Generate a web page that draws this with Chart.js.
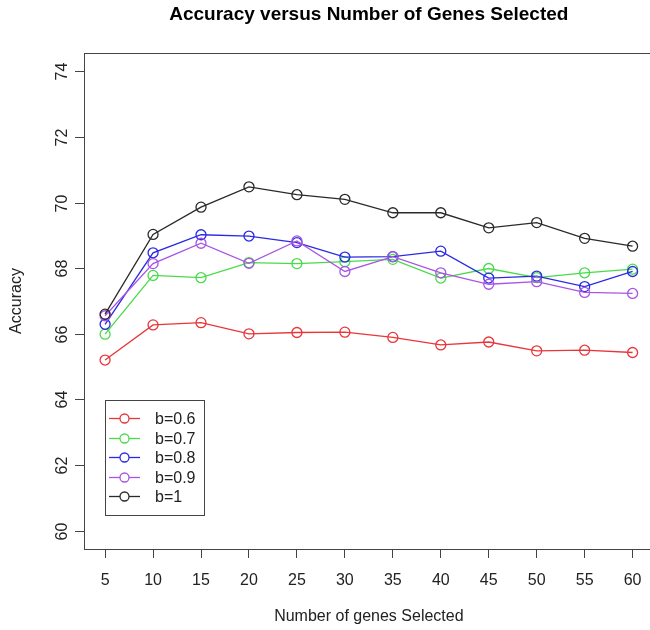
<!DOCTYPE html>
<html><head><meta charset="utf-8">
<script src="https://cdn.jsdelivr.net/npm/chart.js@4.4.0/dist/chart.umd.min.js"></script>
<style>
html,body{margin:0;padding:0;background:#fff;overflow:hidden;width:650px;height:630px}
#wrap{width:650px;height:630px;overflow:hidden;position:relative}
canvas{display:block}
</style></head>
<body><div id="wrap"><canvas id="c" width="660" height="630"></canvas></div>
<script>
// ---- data ----
const genes = [5, 10, 15, 20, 25, 30, 35, 40, 45, 50, 55, 60];
const xTicks = [5, 10, 15, 20, 25, 30, 35, 40, 45, 50, 55, 60];
const yTicks = [60, 62, 64, 66, 68, 70, 72, 74];
const seriesNames = ['b=0.6', 'b=0.7', 'b=0.8', 'b=0.9', 'b=1'];
const b06 = [65.20, 66.27, 66.34, 66.00, 66.04, 66.05, 65.89, 65.66, 65.75, 65.48, 65.50, 65.43];
const b07 = [65.99, 67.78, 67.71, 68.17, 68.14, 68.20, 68.27, 67.70, 67.99, 67.71, 67.86, 67.97];
const b08 = [66.29, 68.47, 69.02, 68.98, 68.78, 68.34, 68.35, 68.52, 67.70, 67.76, 67.44, 67.90];
const b09 = [66.55, 68.14, 68.76, 68.15, 68.83, 67.90, 68.35, 67.86, 67.51, 67.59, 67.26, 67.23];
const b10 = [66.60, 69.03, 69.86, 70.48, 70.24, 70.10, 69.69, 69.69, 69.23, 69.39, 68.91, 68.67];
const seriesValues = [b06, b07, b08, b09, b10];
const seriesColors = ['#E8363A', '#4ADB4A', '#2A2AE6', '#A855E6', '#2A2A2A'];
const titleText = 'Accuracy versus Number of Genes Selected';
const xTitle = 'Number of genes Selected';
const yTitle = 'Accuracy';

const FONT = "'Liberation Sans', Arial, Helvetica, sans-serif";
const AXC = '#444';

const datasets = seriesNames.map((name, i) => ({
  label: name,
  data: genes.map((g, j) => ({x: g, y: seriesValues[i][j]})),
  borderColor: seriesColors[i],
  backgroundColor: 'rgba(0,0,0,0)',
  borderWidth: 1.3,
  pointStyle: 'circle',
  pointRadius: 5,
  pointBorderWidth: 1.3,
  pointBorderColor: seriesColors[i],
  pointBackgroundColor: 'rgba(0,0,0,0)',
  tension: 0,
  fill: false,
  order: seriesNames.length - i
}));

const decor = {
  id: 'decor',
  afterDraw(chart) {
    const ctx = chart.ctx;
    const a = chart.chartArea;
    const ys = chart.scales.y;
    ctx.save();
    // box
    ctx.strokeStyle = AXC;
    ctx.lineWidth = 1;
    ctx.strokeRect(Math.round(a.left) + 0.5, Math.round(a.top) + 0.5,
                   Math.round(a.right - a.left), Math.round(a.bottom - a.top));
    // y ticks + rotated labels
    ctx.fillStyle = '#222';
    ctx.font = '16px ' + FONT;
    yTicks.forEach(v => {
      const py = Math.round(ys.getPixelForValue(v)) + 0.5;
      ctx.beginPath();
      ctx.moveTo(a.left - 9, py);
      ctx.lineTo(a.left, py);
      ctx.stroke();
      ctx.save();
      ctx.translate(a.left - 13, py);
      ctx.rotate(-Math.PI / 2);
      ctx.textAlign = 'center';
      ctx.textBaseline = 'bottom';
      ctx.fillText(String(v), 0, 0);
      ctx.restore();
    });
    // y title
    ctx.save();
    ctx.translate(17, (a.top + a.bottom) / 2);
    ctx.rotate(-Math.PI / 2);
    ctx.textAlign = 'center';
    ctx.textBaseline = 'middle';
    ctx.fillText(yTitle, 0, 0);
    ctx.restore();
    // x title
    const cx = (a.left + a.right) / 2;
    ctx.textAlign = 'center';
    ctx.textBaseline = 'middle';
    ctx.fillText(xTitle, cx, 617);
    // main title
    ctx.font = 'bold 19px ' + FONT;
    ctx.fillStyle = '#000';
    ctx.fillText(titleText, cx, 15);
    // legend
    const lx = a.left + 21, ly = 400, lw = 99, lh = 115;
    ctx.strokeStyle = AXC;
    ctx.lineWidth = 1;
    ctx.strokeRect(Math.round(lx) + 0.5, ly + 0.5, lw, lh);
    ctx.font = '16px ' + FONT;
    ctx.textAlign = 'left';
    chart.data.datasets.forEach((ds, i) => {
      const ry = Math.round(418 + i * 19.6) + 0.5;
      ctx.strokeStyle = ds.borderColor;
      ctx.lineWidth = 1.3;
      ctx.beginPath();
      ctx.moveTo(lx + 4, ry);
      ctx.lineTo(lx + 35, ry);
      ctx.stroke();
      ctx.beginPath();
      ctx.fillStyle = '#fff';
      ctx.arc(lx + 19.5, ry, 4.5, 0, Math.PI * 2);
      ctx.fill();
      ctx.stroke();
      ctx.fillStyle = '#222';
      ctx.fillText(ds.label, lx + 50, ry + 1);
    });
    ctx.restore();
  }
};

new Chart(document.getElementById('c'), {
  type: 'line',
  data: {datasets},
  options: {
    responsive: false,
    animation: false,
    layout: {padding: {left: 0, top: 53, right: 3, bottom: 0}},
    plugins: {legend: {display: false}, title: {display: false}, tooltip: {enabled: false}},
    scales: {
      x: {
        type: 'linear',
        min: 2.8, max: 62.2,
        afterBuildTicks: s => { s.ticks = xTicks.map(v => ({value: v})); },
        afterFit: s => { s.height = 81; },
        grid: {drawOnChartArea: false, drawTicks: true, tickLength: 9, tickColor: AXC, lineWidth: 1},
        border: {display: true, color: AXC, width: 1},
        ticks: {font: {family: FONT, size: 16}, color: '#222', padding: 13, maxRotation: 0, autoSkip: false}
      },
      y: {
        type: 'linear',
        min: 59.44, max: 74.56,
        afterBuildTicks: s => { s.ticks = yTicks.map(v => ({value: v})); },
        afterFit: s => { s.width = 84; },
        grid: {display: false},
        border: {display: true, color: AXC, width: 1},
        ticks: {display: false}
      }
    }
  },
  plugins: [decor]
});
</script>
</body></html>
